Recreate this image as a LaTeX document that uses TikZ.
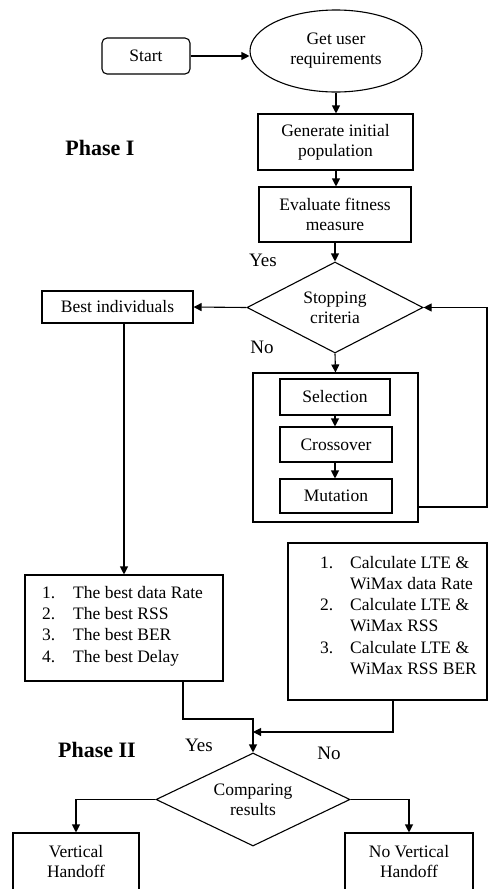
\documentclass[tikz,border=0pt]{standalone}
\usepackage{fontspec}
\setmainfont{Liberation Serif}
\usetikzlibrary{shapes.geometric,arrows.meta,calc}
\begin{document}
\begin{tikzpicture}[x=1pt,y=-1pt,
  every node/.style={font=\fontsize{17.5}{20}\selectfont},
  box/.style={draw, line width=1.1pt, inner sep=0pt, align=center},
  arr/.style={line width=1.1pt, -{Triangle[length=8pt,width=8pt]}},
  ln/.style={line width=1.1pt},
  lbl/.style={font=\fontsize{19}{22}\selectfont},
  phase/.style={font=\fontsize{22}{26}\selectfont\bfseries},
  listtxt/.style={inner sep=0pt, anchor=west, font=\fontsize{17.5}{21.2}\selectfont}]
\useasboundingbox (0,0) rectangle (488,889);
\clip (0,0) rectangle (488,889);
% Phase I
\node[box, rounded corners=5pt, minimum width=88pt, minimum height=36pt] (start) at (146,56) {Start};
\node[box, ellipse, minimum width=172pt, minimum height=82pt] (req) at (336,51) {Get user\\requirements};
\node[box, minimum width=155pt, minimum height=56pt] (gen) at (335.5,142) {Generate initial\\population};
\node[box, minimum width=152pt, minimum height=55pt] (eval) at (335,214.5) {Evaluate fitness\\measure};
\node[box, diamond, aspect=1.9, minimum width=176pt, minimum height=91pt] (stop) at (335,307.5) {Stopping\\criteria};
\node[box, minimum width=151pt, minimum height=32pt] (best) at (117.5,307) {Best individuals};
\node[box, minimum width=165pt, minimum height=149pt] (outer) at (335.5,447.5) {};
\node[box, minimum width=110pt, minimum height=36pt] (sel) at (335,397) {Selection};
\node[box, minimum width=112pt, minimum height=35pt] (cross) at (336,444.5) {Crossover};
\node[box, minimum width=112pt, minimum height=34pt] (mut) at (336,496) {Mutation};
\node[phase] (ph1) at (100,148) {Phase I};
\node[lbl] (yes1) at (263,260) {Yes};
\node[lbl] (no1) at (262,347) {No};
% lists
\node[box, minimum width=198pt, minimum height=106pt] (list) at (124,628) {};
\node[listtxt] (listt) at (42,626) {\begin{tabular}{@{}p{31pt}@{}l@{}}
1. & The best data Rate\\
2. & The best RSS\\
3. & The best BER\\
4. & The best Delay
\end{tabular}};
\node[box, minimum width=199pt, minimum height=157pt] (calc) at (387.5,621.5) {};
\node[listtxt] (calct) at (320,617) {\begin{tabular}{@{}p{30pt}@{}l@{}}
1. & Calculate LTE \&\\
 & WiMax data Rate\\
2. & Calculate LTE \&\\
 & WiMax RSS\\
3. & Calculate LTE \&\\
 & WiMax RSS BER
\end{tabular}};
% Phase II
\node[phase] (ph2) at (97,750) {Phase II};
\node[lbl] (yes2) at (199,745) {Yes};
\node[lbl] (no2) at (329,753) {No};
\node[box, diamond, aspect=2.08, minimum width=194pt, minimum height=93pt] (cmp) at (253,799.5) {Comparing\\results};
\node[box, minimum width=126pt, minimum height=58pt] (vh) at (76,862) {Vertical\\Handoff};
\node[box, minimum width=128pt, minimum height=58pt] (nvh) at (409,862) {No Vertical\\Handoff};
% coordinates
\coordinate (fbr) at (487,507);
\coordinate (j1) at (183,719);
\coordinate (j2) at (393,732);
% connectors
\draw[arr] (start.east) -- (req.west |- start.east);
\draw[arr] (req.south) -- (req.south |- gen.north);
\draw[arr] (gen.south -| req.south) -- (req.south |- eval.north);
\draw[arr] (eval.south) -- (stop.north);
\draw[arr] (stop.west) -- (best.east);
\draw[arr] (stop.south) -- (outer.north);
\draw[arr] (sel.south -| stop.south) -- (stop.south |- cross.north);
\draw[arr] (cross.south -| stop.south) -- (stop.south |- mut.north);
\draw[arr] (outer.east |- fbr) -- (fbr) |- (stop.east);
\draw[arr] (best.south -| list.north) -- (list.north);
\draw[arr] (list.south -| j1) -- (j1) -| (cmp.north);
\draw[arr] (calc.south -| j2) -- (j2) -- (j2 -| cmp.north);
\draw[arr] (cmp.west) -| (vh.north);
\draw[arr] (cmp.east) -| (nvh.north);
\end{tikzpicture}
\end{document}
